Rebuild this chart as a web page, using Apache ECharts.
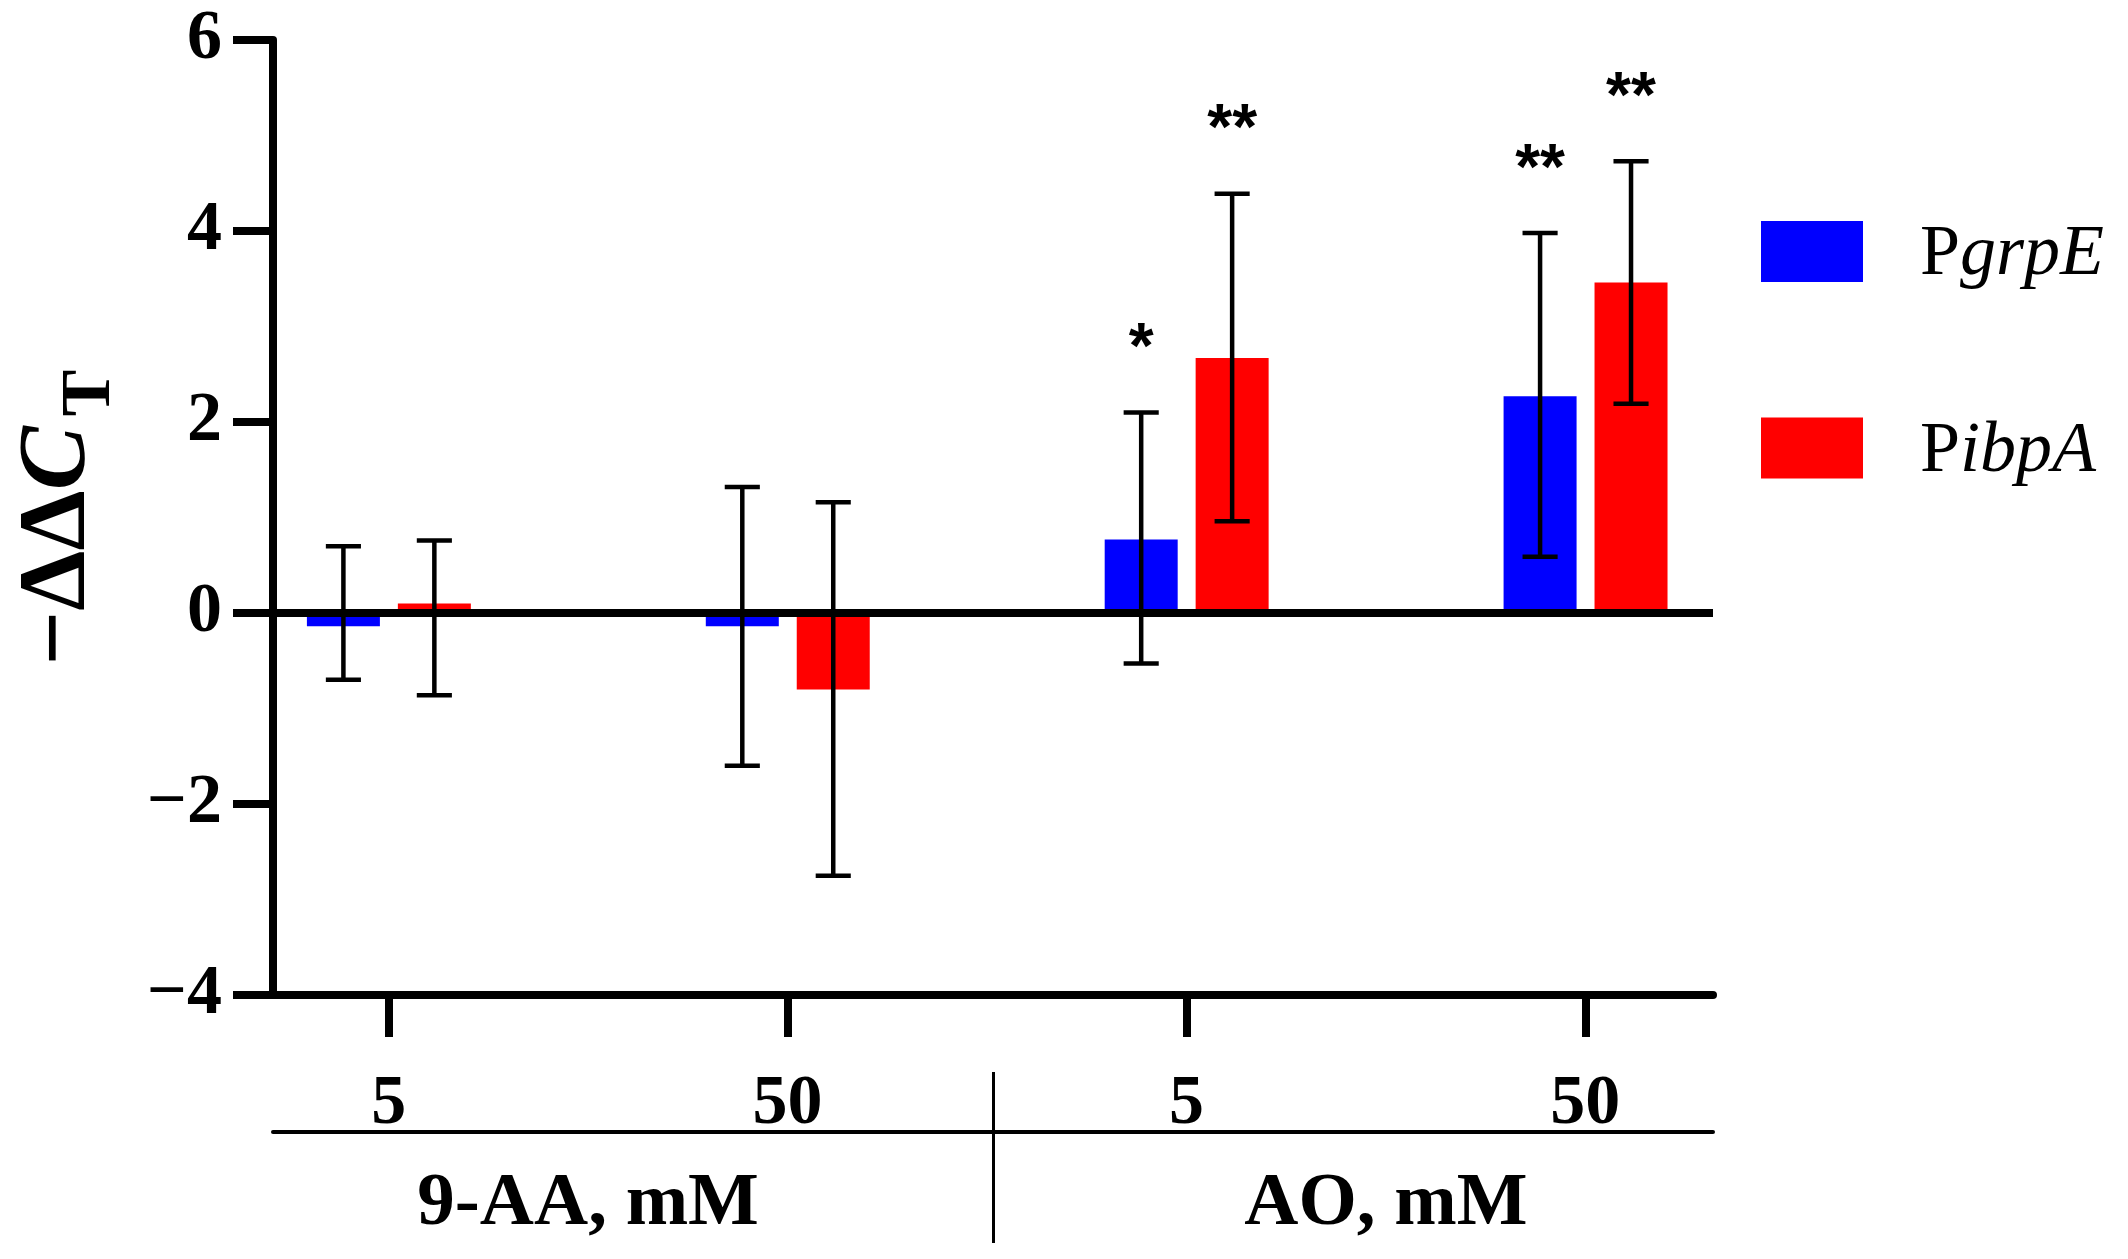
<!DOCTYPE html>
<html>
<head>
<meta charset="utf-8">
<script src="https://cdn.jsdelivr.net/npm/echarts@6/dist/echarts.min.js"></script>
<style>
html,body{margin:0;padding:0;background:#fff;}
#chart{width:2128px;height:1259px;}
</style>
</head>
<body>
<div id="chart"></div>
<script>
// ---- data ----
const categories = ['5', '50', '5', '50'];
const groupLabels = ['9-AA, mM', 'AO, mM'];
const groupCenters = [0.5, 2.5];
const seriesNames = ['PgrpE', 'PibpA'];
const pgrpE = [-0.14, -0.14, 0.77, 2.27];
const pgrpEUpper = [0.70, 1.32, 2.10, 3.98];
const pgrpELower = [-0.70, -1.60, -0.53, 0.59];
const pgrpESig = ['', '', '*', '**'];
const pibpA = [0.10, -0.80, 2.67, 3.46];
const pibpAUpper = [0.76, 1.16, 4.39, 4.73];
const pibpALower = [-0.86, -2.75, 0.96, 2.19];
const pibpASig = ['', '', '**', '**'];
const yTicks = [-4, -2, 0, 2, 4, 6];

// ---- styles ----
const SERIF = '"Liberation Serif", "Times New Roman", serif';
const X_MIN = -0.29, X_MAX = 3.32;
const catIdx = categories.map((c, i) => i);

function makeRender(offsetFrac, upper, lower, sigs, color) {
  return function (params, api) {
    const i = params.dataIndex;
    const x = api.value(0), v = api.value(1);
    const band = api.size([1, 0])[0];
    const base = api.coord([x, 0]);
    const cx = base[0] + offsetFrac * band;
    const w = 0.183 * band;
    const cap = 0.044 * band;
    const y0 = base[1];
    const yv = api.coord([x, v])[1];
    const yh = api.coord([x, upper[i]])[1];
    const yl = api.coord([x, lower[i]])[1];
    const lw = 4.5;
    const children = [
      {type: 'rect', shape: {x: cx - w / 2, y: Math.min(y0, yv), width: w, height: Math.abs(yv - y0)},
       style: {fill: color}, z2: 1},
      {type: 'line', shape: {x1: cx, y1: yh, x2: cx, y2: yl}, style: {stroke: '#000', lineWidth: lw}, z2: 10},
      {type: 'line', shape: {x1: cx - cap, y1: yh, x2: cx + cap, y2: yh}, style: {stroke: '#000', lineWidth: lw}, z2: 10},
      {type: 'line', shape: {x1: cx - cap, y1: yl, x2: cx + cap, y2: yl}, style: {stroke: '#000', lineWidth: lw}, z2: 10}
    ];
    if (sigs[i]) {
      children.push({type: 'text', x: cx, y: yh - 62,
        style: {text: sigs[i], font: 'bold 64px "Liberation Sans", Arial, sans-serif', fill: '#000',
                align: 'center', verticalAlign: 'middle'}, z2: 10});
    }
    return {type: 'group', children: children};
  };
}

const chart = echarts.init(document.getElementById('chart'), null, {renderer: 'canvas'});
const axisCommon = {type: 'value', min: X_MIN, max: X_MAX, splitLine: {show: false}};

chart.setOption({
  backgroundColor: '#fff',
  animation: false,
  grid: {left: 273, top: 40, width: 1440, height: 955, containLabel: false, outerBoundsMode: 'none'},
  legend: {
    left: 1761, top: 217, orient: 'vertical', padding: 0,
    itemWidth: 102, itemHeight: 61, itemGap: 122,
    selectedMode: false,
    data: [
      {name: seriesNames[0], icon: 'rect', itemStyle: {color: '#0000FF'}},
      {name: seriesNames[1], icon: 'rect', itemStyle: {color: '#FF0000'}}
    ],
    formatter: function (name) { return 'P{i|' + name.slice(1) + '}'; },
    textStyle: {
      fontFamily: SERIF, fontSize: 72, color: '#000', lineHeight: 61, padding: [8, 0, 0, 52],
      rich: {i: {fontFamily: SERIF, fontSize: 72, fontStyle: 'italic', color: '#000', lineHeight: 61}}
    }
  },
  xAxis: [
    Object.assign({}, axisCommon, {
      position: 'bottom',
      axisLine: {show: true, onZero: false, lineStyle: {color: '#000', width: 8}},
      axisTick: {show: true, customValues: catIdx, length: 42, lineStyle: {color: '#000', width: 8}},
      axisLabel: {show: true, customValues: catIdx, margin: 75,
        formatter: function (v) { return categories[Math.round(v)]; },
        fontFamily: SERIF, fontWeight: 'bold', fontSize: 70, color: '#000'}
    }),
    Object.assign({}, axisCommon, {
      position: 'bottom', offset: 137,
      axisLine: {show: true, onZero: false, lineStyle: {color: '#000', width: 4}},
      axisTick: {show: true, inside: true, customValues: [(X_MIN + X_MAX) / 2], length: 60, lineStyle: {color: '#000', width: 3}},
      axisLabel: {show: true, customValues: groupCenters, margin: 35,
        formatter: function (v) { return groupLabels[groupCenters.indexOf(v)]; },
        fontFamily: SERIF, fontWeight: 'bold', fontSize: 75, color: '#000'}
    }),
    Object.assign({}, axisCommon, {
      position: 'bottom', offset: 137,
      axisLine: {show: false, onZero: false},
      axisTick: {show: true, customValues: [(X_MIN + X_MAX) / 2], length: 111, lineStyle: {color: '#000', width: 3}},
      axisLabel: {show: false}
    })
  ],
  yAxis: {
    type: 'value', min: yTicks[0], max: yTicks[yTicks.length - 1], interval: 2,
    splitLine: {show: false},
    axisLine: {show: true, onZero: false, lineStyle: {color: '#000', width: 8}},
    axisTick: {show: true, length: 40, lineStyle: {color: '#000', width: 8}},
    axisLabel: {margin: 51, fontFamily: SERIF, fontWeight: 'bold', fontSize: 70, color: '#000',
      formatter: function (v) { return String(v).replace('-', '\u2212'); }},
    name: '{m|\u2212\u0394\u0394}{c|C}{s|T}',
    nameLocation: 'middle', nameRotate: 90, nameGap: 147,
    nameTextStyle: {
      rich: {
        m: {fontFamily: SERIF, fontWeight: 'bold', fontSize: 96, color: '#000'},
        c: {fontFamily: SERIF, fontWeight: 'bold', fontStyle: 'italic', fontSize: 96, color: '#000', padding: [0, 10, 0, 0]},
        s: {fontFamily: SERIF, fontWeight: 'bold', fontSize: 70, color: '#000', padding: [64, 0, 0, 0]}
      }
    }
  },
  series: [
    {
      name: seriesNames[0], type: 'custom', xAxisIndex: 0, z: 2,
      itemStyle: {color: '#0000FF'},
      renderItem: makeRender(-0.1135, pgrpEUpper, pgrpELower, pgrpESig, '#0000FF'),
      data: pgrpE.map((v, i) => [i, v])
    },
    {
      name: seriesNames[1], type: 'custom', xAxisIndex: 0, z: 2,
      itemStyle: {color: '#FF0000'},
      renderItem: makeRender(0.1145, pibpAUpper, pibpALower, pibpASig, '#FF0000'),
      data: pibpA.map((v, i) => [i, v])
    },
    {
      name: 'zero', type: 'line', xAxisIndex: 0, data: [], z: 3,
      markLine: {silent: true, symbol: ['none', 'none'], label: {show: false},
        lineStyle: {color: '#000', width: 8, type: 'solid'},
        data: [{yAxis: 0}]}
    }
  ]
});
</script>
</body>
</html>
